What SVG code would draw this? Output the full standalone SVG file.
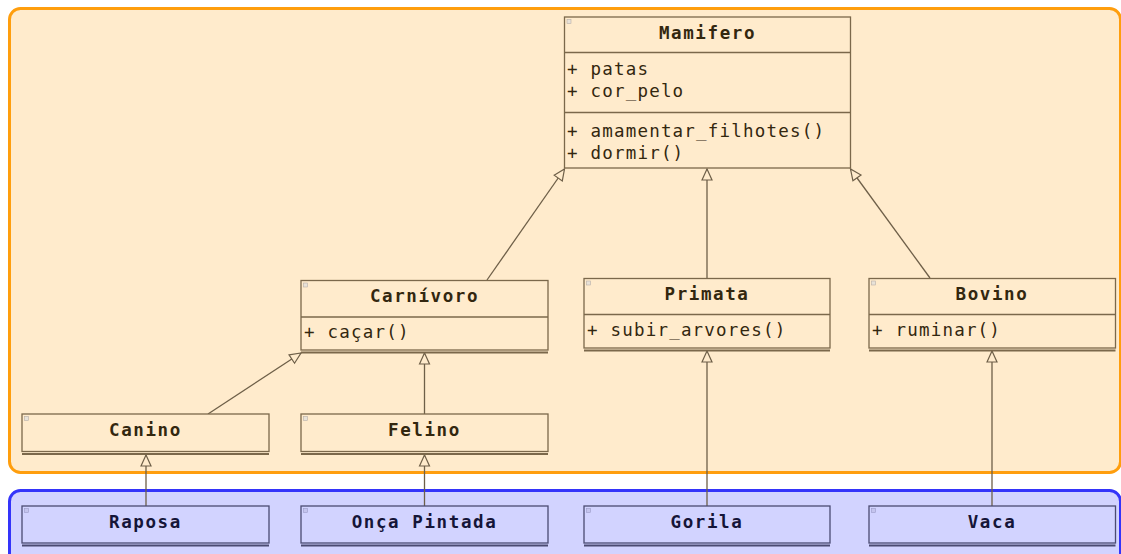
<svg xmlns="http://www.w3.org/2000/svg" width="1121" height="554" viewBox="0 0 1121 554">
<defs>
<style>
.pkgA{fill:#FFEBCC;stroke:#FF9E0D;stroke-width:3}
.pkgB{fill:#D2D3FF;stroke:#3434FA;stroke-width:3}
.boxA{fill:#FFEBCC;stroke:#7B684B;stroke-width:1.3}
.boxB{fill:#D2D3FF;stroke:#4B4B72;stroke-width:1.3}
.sepA{stroke:#7B684B;stroke-width:1.3}
.sepB{stroke:#4B4B72;stroke-width:1.3}
.botA{stroke:#7B684B;stroke-width:2}
.botB{stroke:#4B4B72;stroke-width:2}
.icon{fill:#E8E2D8;stroke:#B8B0A8;stroke-width:0.6}
.iconB{fill:#C4C4EE;stroke:#9C9CC8;stroke-width:0.6}
.hA{font-family:"DejaVu Sans Mono",monospace;font-weight:bold;font-size:17.5px;letter-spacing:1.6px;fill:#33270F;text-anchor:middle}
.hB{font-family:"DejaVu Sans Mono",monospace;font-weight:bold;font-size:17.5px;letter-spacing:1.6px;fill:#151538;text-anchor:middle}
.m{font-family:"DejaVu Sans Mono",monospace;font-size:17.5px;letter-spacing:1.2px;fill:#33270F}
.c{stroke:#6E5F48;stroke-width:1.3;fill:none;marker-end:url(#tri)}
</style>
<marker id="tri" markerUnits="userSpaceOnUse" markerWidth="13" markerHeight="13" viewBox="0 0 13 13" refX="12" refY="6.5" orient="auto">
<path d="M1,1.5 L12,6.5 L1,11.5 Z" fill="#FFEBCC" stroke="#6E5F48" stroke-width="1.2"/>
</marker>
</defs>
<rect width="1121" height="554" fill="#FFFFFF"/>
<g id="pkg-orange"><rect class="pkgA" x="9.5" y="8.5" width="1111" height="464" rx="11"/></g>
<g id="pkg-blue"><rect class="pkgB" x="9.5" y="490.5" width="1111" height="80" rx="11"/></g>
<g id="connectors">
<line class="c" x1="487" y1="280" x2="564.5" y2="169"/>
<line class="c" x1="707" y1="278" x2="707" y2="169"/>
<line class="c" x1="930" y1="278" x2="850.5" y2="169"/>
<line class="c" x1="208" y1="414" x2="301" y2="353"/>
<line class="c" x1="424.5" y1="414" x2="424.5" y2="353"/>
<line class="c" x1="146" y1="506" x2="146" y2="455"/>
<line class="c" x1="424.5" y1="506" x2="424.5" y2="455"/>
<line class="c" x1="707" y1="506" x2="707" y2="351"/>
<line class="c" x1="992" y1="506" x2="992" y2="351"/>
</g>
<g id="Mamifero">
<rect class="boxA" x="564.5" y="17" width="286" height="151"/>
<rect class="icon" x="567" y="19.5" width="4" height="4"/>
<line class="sepA" x1="564.5" y1="52.5" x2="850.5" y2="52.5"/>
<line class="sepA" x1="564.5" y1="112.5" x2="850.5" y2="112.5"/>
<text class="hA" x="707.5" y="39">Mamifero</text>
<text class="m" x="567" y="75">+ patas</text>
<text class="m" x="567" y="97">+ cor_pelo</text>
<text class="m" x="567" y="137">+ amamentar_filhotes()</text>
<text class="m" x="567" y="159">+ dormir()</text>
</g>
<g id="Carnivoro">
<rect class="boxA" x="301" y="280.5" width="247" height="69.5"/>
<line class="botA" x1="301" y1="352.5" x2="548" y2="352.5"/>
<rect class="icon" x="303.5" y="283" width="4" height="4"/>
<line class="sepA" x1="301" y1="317" x2="548" y2="317"/>
<text class="hA" x="424.5" y="302">Carnívoro</text>
<text class="m" x="304" y="338">+ caçar()</text>
</g>
<g id="Primata">
<rect class="boxA" x="584" y="278.5" width="246" height="69.5"/>
<line class="botA" x1="584" y1="350.5" x2="830" y2="350.5"/>
<rect class="icon" x="586.5" y="281" width="4" height="4"/>
<line class="sepA" x1="584" y1="314.5" x2="830" y2="314.5"/>
<text class="hA" x="707" y="300">Primata</text>
<text class="m" x="587" y="336">+ subir_arvores()</text>
</g>
<g id="Bovino">
<rect class="boxA" x="869" y="278.5" width="246.5" height="69.5"/>
<line class="botA" x1="869" y1="350.5" x2="1115.5" y2="350.5"/>
<rect class="icon" x="871.5" y="281" width="4" height="4"/>
<line class="sepA" x1="869" y1="314.5" x2="1115.5" y2="314.5"/>
<text class="hA" x="992" y="300">Bovino</text>
<text class="m" x="872" y="336">+ ruminar()</text>
</g>
<g id="Canino">
<rect class="boxA" x="22" y="414" width="247" height="37.5"/>
<line class="botA" x1="22" y1="454" x2="269" y2="454"/>
<rect class="icon" x="24.5" y="416.5" width="4" height="4"/>
<text class="hA" x="145.5" y="436">Canino</text>
</g>
<g id="Felino">
<rect class="boxA" x="301" y="414" width="247" height="37.5"/>
<line class="botA" x1="301" y1="454" x2="548" y2="454"/>
<rect class="icon" x="303.5" y="416.5" width="4" height="4"/>
<text class="hA" x="424.5" y="436">Felino</text>
</g>
<g id="Raposa">
<rect class="boxB" x="22" y="506" width="247" height="37"/>
<line class="botB" x1="22" y1="545.5" x2="269" y2="545.5"/>
<rect class="iconB" x="24.5" y="508.5" width="4" height="4"/>
<text class="hB" x="145.5" y="528">Raposa</text>
</g>
<g id="OncaPintada">
<rect class="boxB" x="301" y="506" width="247" height="37"/>
<line class="botB" x1="301" y1="545.5" x2="548" y2="545.5"/>
<rect class="iconB" x="303.5" y="508.5" width="4" height="4"/>
<text class="hB" x="424.5" y="528">Onça Pintada</text>
</g>
<g id="Gorila">
<rect class="boxB" x="584" y="506" width="246" height="37"/>
<line class="botB" x1="584" y1="545.5" x2="830" y2="545.5"/>
<rect class="iconB" x="586.5" y="508.5" width="4" height="4"/>
<text class="hB" x="707" y="528">Gorila</text>
</g>
<g id="Vaca">
<rect class="boxB" x="869" y="506" width="246.5" height="37"/>
<line class="botB" x1="869" y1="545.5" x2="1115.5" y2="545.5"/>
<rect class="iconB" x="871.5" y="508.5" width="4" height="4"/>
<text class="hB" x="992" y="528">Vaca</text>
</g>
</svg>
